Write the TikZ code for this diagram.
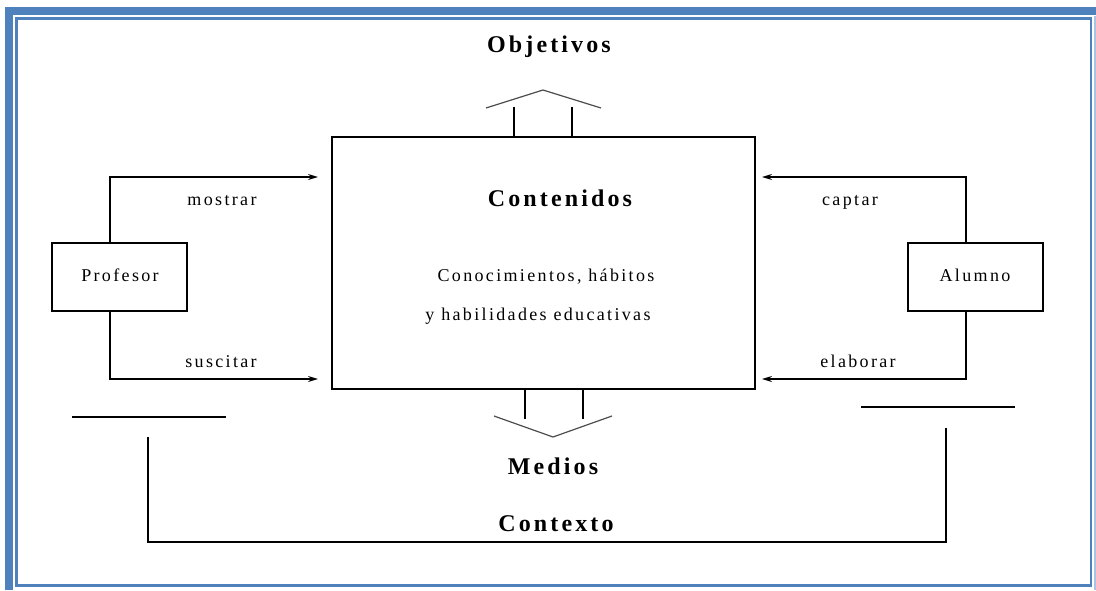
\documentclass[tikz,border=0pt]{standalone}
\usepackage{fontspec}
\setmainfont{Liberation Serif}[LetterSpace=13]
\usetikzlibrary{arrows.meta,calc}
\definecolor{frameblue}{RGB}{79,129,189}
\definecolor{lightblue}{RGB}{170,195,225}
\begin{document}
\begin{tikzpicture}[x=1pt,y=-1pt,
  box/.style={draw,line width=1.4pt,minimum width=135pt,minimum height=68pt,inner sep=0pt},
  bigbox/.style={draw,line width=1.4pt,minimum width=423pt,minimum height=252pt,inner sep=0pt},
  lbl/.style={anchor=base,inner sep=0pt,font=\fontsize{18}{20}\selectfont},
  ttl/.style={anchor=base,inner sep=0pt,font=\fontsize{24}{26}\selectfont\bfseries},
  conn/.style={line width=1.3pt,-{Stealth[length=10pt,width=6pt]}},
  ln/.style={line width=1.3pt},
  chev/.style={line width=1.2pt,black!70}]
\useasboundingbox (0,0) rectangle (1096,590);
% frame
\draw[frameblue,line width=8pt] (9,590) -- (9,11) -- (1096,11);
\draw[frameblue,line width=2.5pt] (16.5,18.5) rectangle (1091,585.5);
\draw[lightblue,line width=2pt] (1094.5,16) -- (1094.5,590);
% boxes
\node[bigbox] (cont) at (543.5,263) {};
\node[box] (prof) at (119.5,277) {};
\node[box] (alum) at (975.5,277) {};
\node[lbl] (proft) at (120,281) {Profesor};
\node[lbl] (alumt) at (975,281) {Alumno};
% texts
\node[ttl] (obj) at (549,52) {Objetivos};
\node[ttl] (contt) at (560,206) {Contenidos};
\node[lbl] (con1) at (546,281) {Conocimientos, hábitos};
\node[lbl] (con2) at (538,320) {y habilidades educativas};
\node[ttl] (medios) at (553,474) {Medios};
\node[ttl] (contexto) at (556,531) {Contexto};
\node[lbl] (mostrar) at (222,205) {mostrar};
\node[lbl] (suscitar) at (221,367) {suscitar};
\node[lbl] (captar) at (850,205) {captar};
\node[lbl] (elaborar) at (858,367) {elaborar};
% coordinates for arrow ends
\coordinate (lt) at (318,177);
\coordinate (lb) at (318,379);
\coordinate (rt) at (762,177);
\coordinate (rb) at (762,379);
% connectors
\draw[conn] ([xshift=-9.5pt]prof.north) |- (lt);
\draw[conn] ([xshift=-9.5pt]prof.south) |- (lb);
\draw[conn] ([xshift=-9.5pt]alum.north) |- (rt);
\draw[conn] ([xshift=-9.5pt]alum.south) |- (rb);
% up arrow (Objetivos)
\draw[ln] ($(cont.north)+(-29.5,0)$) -- ++(0,-29);
\draw[ln] ($(cont.north)+(28.5,0)$) -- ++(0,-29);
\draw[chev] (486,108) -- (543,90) -- (601,108);
% down arrow (Medios)
\draw[ln] ($(cont.south)+(-18.5,0)$) -- ++(0,29);
\draw[ln] ($(cont.south)+(39.5,0)$) -- ++(0,29);
\draw[chev] (494,416) -- (553,437) -- (612,416);
% context
\draw[ln] (72,417) -- (226,417);
\draw[ln] (861,407) -- (1015,407);
\draw[ln] (148,437) -- (148,542) -- (946,542) -- (946,428);
\end{tikzpicture}
\end{document}
